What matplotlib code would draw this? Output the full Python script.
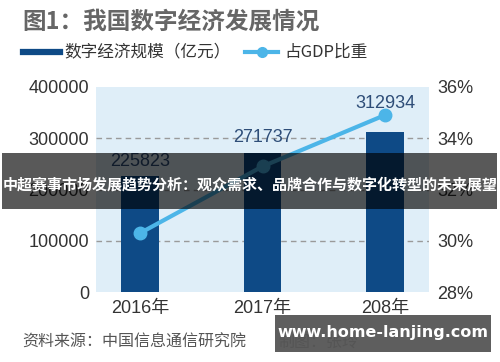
import matplotlib
matplotlib.use('Agg')
import matplotlib.pyplot as plt
from matplotlib.patches import Rectangle

plt.rcParams['font.family'] = ['Liberation Sans', 'Noto Sans CJK SC', 'DejaVu Sans']

# data
years = ['2016年', '2017年', '208年']
scale = [225823, 271737, 312934]          # 数字经济规模（亿元）
gdp_share = [30.3, 32.9, 34.9]             # 占GDP比重 (%)
left_ticks = [0, 100000, 200000, 300000, 400000]
right_ticks = [28, 30, 32, 34, 36]

BAR_COLOR = '#0e4a86'
LINE_COLOR = '#4cb5e8'
BG_COLOR = '#dfeef8'
TEXT_COLOR = '#333333'
CJK = ['Noto Sans CJK SC', 'DejaVu Sans']

fig = plt.figure(figsize=(5, 3.62), dpi=100)
ax = fig.add_axes([0.192, 0.193, 0.666, 0.567])
ax.set_facecolor(BG_COLOR)

x = list(range(len(years)))
ax.bar(x, scale, width=0.31, color=BAR_COLOR, zorder=3)
for v in left_ticks[1:-1]:
    ax.axhline(v, color='#9a9a9a', lw=1, ls=(0, (4, 3)), zorder=2)

ax.set_xlim(-0.36, 2.36)
ax.set_ylim(0, 400000)
ax.set_yticks(left_ticks)
ax.set_yticklabels([str(t) for t in left_ticks])
ax.set_xticks(x)
ax.set_xticklabels(years)
ax.tick_params(length=0, labelsize=13, colors=TEXT_COLOR, pad=5)
ax.tick_params(axis='x', pad=6)
for s in ax.spines.values():
    s.set_visible(False)

ax2 = ax.twinx()
ax2.plot(x, gdp_share, color=LINE_COLOR, lw=3, marker='o', ms=9, zorder=4)
ax2.set_ylim(28, 36)
ax2.set_yticks(right_ticks)
ax2.set_yticklabels([f'{t}%' for t in right_ticks])
ax2.tick_params(length=0, labelsize=13, colors=TEXT_COLOR, pad=6)
for s in ax2.spines.values():
    s.set_visible(False)

# value labels sit above whichever mark is higher
for i, v in enumerate(scale):
    line_v = (gdp_share[i] - 28) / 8 * 400000
    top = max(v, line_v)
    off = 2 if line_v > v else 4.5
    ax2.annotate(str(v), xy=(i, (top / 400000) * 8 + 28), xytext=(0, off),
                 textcoords='offset points', ha='center', va='bottom',
                 fontsize=13, color='#2e4d78', zorder=5)

# title and legend
fig.text(0.044, 0.94, '图1：我国数字经济发展情况', fontsize=17, fontweight='bold',
         color='#666666', va='center', family=CJK)
fig.lines.append(plt.Line2D([0.046, 0.12], [0.856, 0.856], transform=fig.transFigure,
                            color=BAR_COLOR, lw=4.5))
fig.text(0.128, 0.856, '数字经济规模（亿元）', fontsize=12, color=TEXT_COLOR, va='center',
         family=CJK)
fig.lines.append(plt.Line2D([0.49, 0.523, 0.556], [0.856, 0.856, 0.856],
                            transform=fig.transFigure, color=LINE_COLOR, lw=3,
                            marker='o', ms=7, markevery=[1]))
fig.text(0.568, 0.856, '占GDP比重', fontsize=12, color=TEXT_COLOR, va='center',
         family=CJK)

# source line
fig.text(0.044, 0.055, '资料来源：中国信息通信研究院', fontsize=11.5, color='#555555',
         va='center', family=CJK)
fig.text(0.556, 0.055, '制图：张玲', fontsize=11.5, color='#555555',
         va='center', family=CJK)

# overlay banner
fig.patches.append(Rectangle((0.004, 0.423), 0.99, 0.155, transform=fig.transFigure,
                             facecolor='black', alpha=0.65, zorder=10))
fig.text(0.5, 0.489, '中超赛事市场发展趋势分析：观众需求、品牌合作与数字化转型的未来展望',
         fontsize=10.8, fontweight='bold', color='white', ha='center', va='center',
         zorder=11, family=CJK)

fig.patches.append(Rectangle((0.55, 0.028), 0.432, 0.102, transform=fig.transFigure,
                             facecolor='#555555', alpha=0.95, zorder=10))
fig.text(0.766, 0.082, 'www.home-lanjing.com', fontsize=11.5, fontweight='bold',
         color='white', ha='center', va='center', zorder=11,
         family=['DejaVu Sans'])

fig.savefig('out.png', dpi=100)
